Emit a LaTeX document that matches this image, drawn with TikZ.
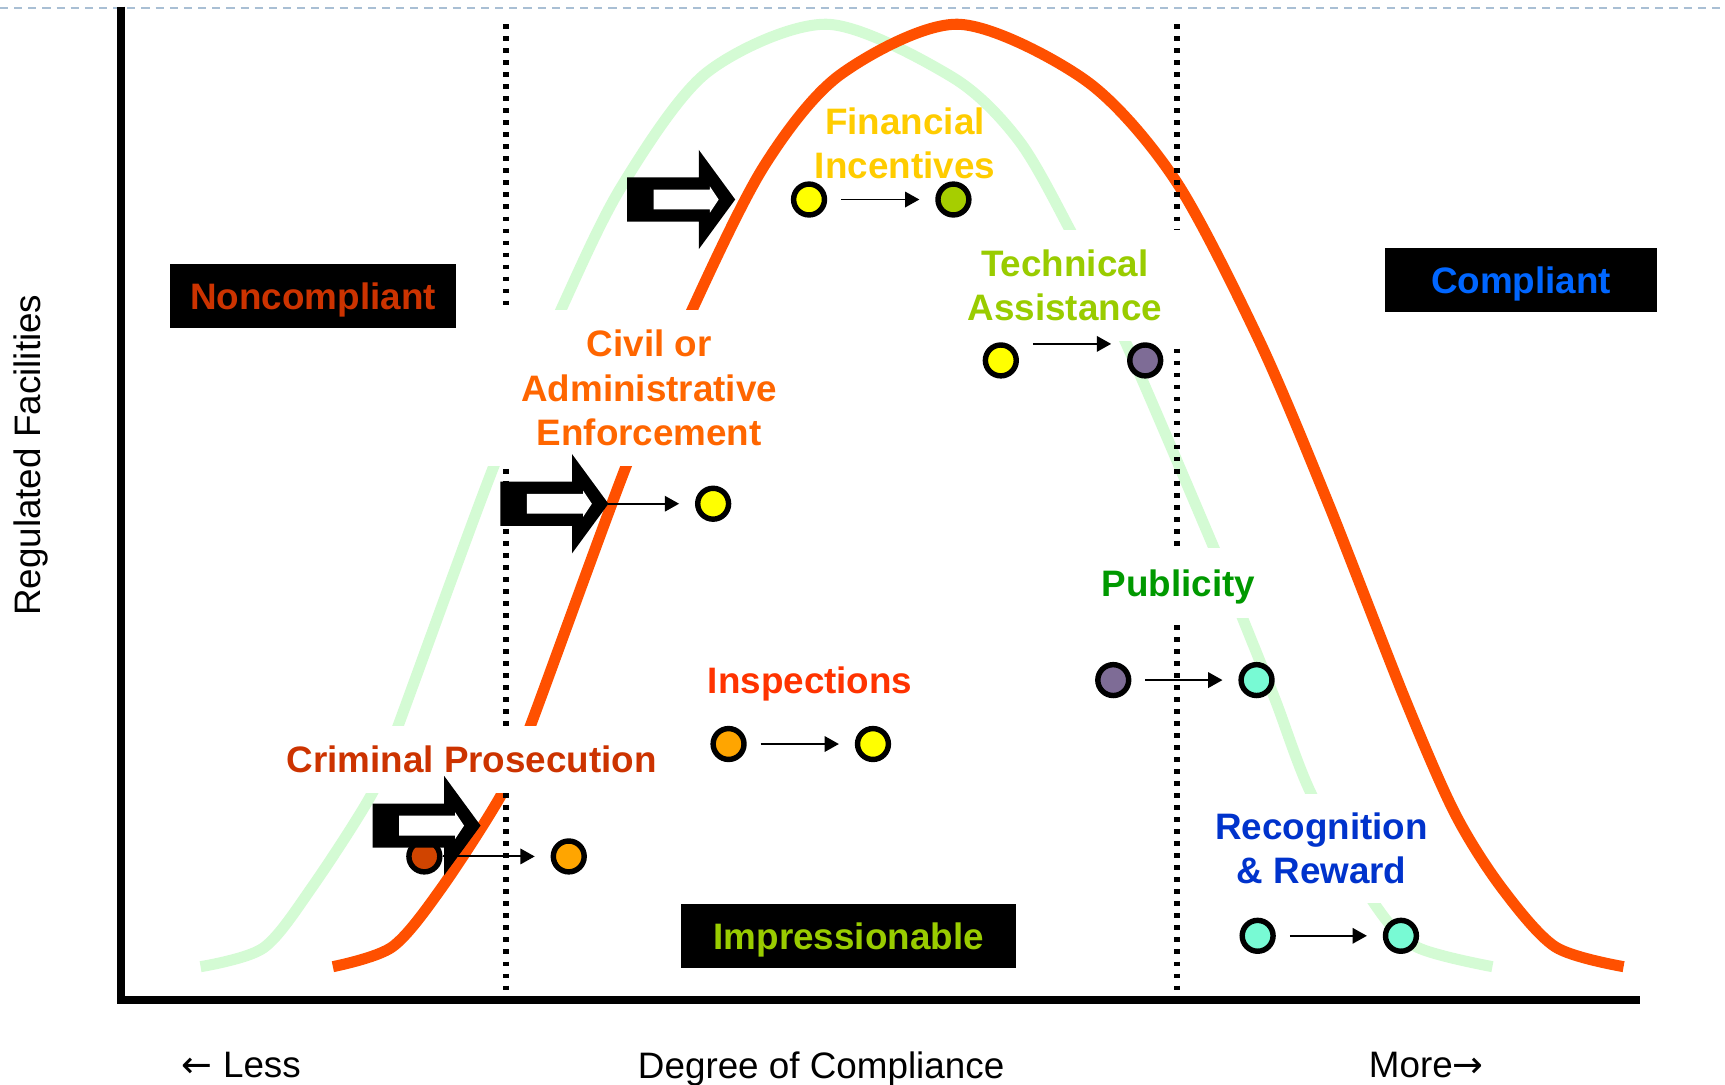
\documentclass[tikz,border=0pt]{standalone}
\usepackage{fontspec}
\setmainfont{Liberation Sans}
\newfontfamily\arrowfont{DejaVu Sans}
\usetikzlibrary{arrows.meta,calc}

\definecolor{bellgreen}{HTML}{D4FBD4}
\definecolor{bellorange}{HTML}{FF5000}
\definecolor{pagedash}{HTML}{A9BFD4}
\definecolor{redtxt}{HTML}{CC3300}
\definecolor{bluetxt}{HTML}{0066FF}
\definecolor{limetxt}{HTML}{99CC00}
\definecolor{goldtxt}{HTML}{FFCC00}
\definecolor{civtxt}{HTML}{FF6600}
\definecolor{insptxt}{HTML}{FF3300}
\definecolor{pubtxt}{HTML}{009900}
\definecolor{rectxt}{HTML}{0033CC}
\definecolor{dotyellow}{HTML}{FFFF00}
\definecolor{dotlime}{HTML}{A6CE00}
\definecolor{dotpurple}{HTML}{7E6C96}
\definecolor{dotorange}{HTML}{FFA500}
\definecolor{dotred}{HTML}{D04400}
\definecolor{dotaqua}{HTML}{78FAD4}

\begin{document}
\begin{tikzpicture}[x=0.01cm, y=-0.01cm,
  bell/.style={line width=2.85pt},
  zone/.style={line width=1.6pt, dash pattern=on 1.2pt off 1.9pt},
  axis/.style={line width=2pt},
  lbl/.style={font=\bfseries\fontsize{9.5}{11.4}\selectfont, align=center, inner sep=0pt},
  one/.style={text depth=0pt},
  cut/.style={fill=white},
  tag/.style={lbl, one, fill=black, minimum width=#1, minimum height=0.58cm},
  axlbl/.style={font=\fontsize{9.5}{11.4}\selectfont, inner sep=0pt, text depth=0pt},
  dot/.style={circle, draw=black, line width=1.4pt, minimum size=0.28cm, inner sep=0pt, fill=#1},
  move/.style={-{Triangle[length=3.7pt,width=4pt]}, line width=0.5pt, shorten <=3.6pt, shorten >=4.1pt},
  fatarrow/.pic={
    \fill[black] (0,0) -- (-33,-45) -- (-33,-20) -- (-98,-20) -- (-98,20) -- (-33,20) -- (-33,45) -- cycle;
    \fill[white] (-15,0) -- (-23,-12) -- (-23,-9) -- (-74,-9) -- (-74,9) -- (-23,9) -- (-23,12) -- cycle;
    \coordinate (-tip) at (0,0);
  }
]
  \useasboundingbox (0,0) rectangle (1565,984);

  % page rule
  \draw[pagedash, line width=0.5pt, dash pattern=on 2.1pt off 1.55pt] (0,7) -- (1565,7);

  % the two distributions
  \draw[bell, bellgreen] plot[smooth, tension=0.5] coordinates {(182,877) (239,860) (283,805) (338,719) (361,659) (448,423) (509,281) (564,169) (641,66) (750,22) (864,70) (924,127) (971,209) (1021,310) (1103,501) (1127,560) (1157,635) (1190,721) (1247,820) (1285,859) (1354,877)};
  \draw[bell, bellorange] plot[smooth, tension=0.5] coordinates {(302,877) (356,859) (401,805) (456,719) (481,659) (568,423) (628,281) (693,151) (762,68) (869,22) (985,73) (1066,163) (1142,308) (1204,454) (1275,635) (1320,738) (1362,805) (1411,859) (1473,877)};

  % zone limits
  \coordinate (lowtop) at (459,22);
  \coordinate (lowbot) at (459,898);
  \coordinate (hightop) at (1068,22);
  \coordinate (highbot) at (1068,898);
  \draw[zone] (lowtop) -- (lowbot);
  \draw[zone] (hightop) -- (highbot);

  % axes
  \coordinate (ytop) at (110,6);
  \coordinate (origin) at (110,907);
  \coordinate (xend) at (1488,907);
  \draw[axis] (ytop) -- (origin) -- (xend);

  \node[axlbl, rotate=90] (ylab) at (25,413) {Regulated Facilities};
  \node[axlbl] (less) at (219,966) {{\arrowfont ←} Less};
  \node[axlbl] (xlab) at (745,966) {Degree of Compliance};
  \node[axlbl] (more) at (1294,966) {More{\arrowfont →}};

  % zone tags
  \node[tag=2.6cm, text=redtxt] (noncomp) at (284,268.5) {Noncompliant};
  \node[tag=2.46cm, text=bluetxt] (comp) at (1380,254) {Compliant};
  \node[tag=3.04cm, text=limetxt] (impress) at (770,849) {Impressionable};

  % tools
  \node[lbl, text=goldtxt] (fin) at (821,130) {Financial\\Incentives};
  \node[lbl, cut, text=limetxt, minimum width=2.16cm, minimum height=1.0cm] (tech) at (966,259) {Technical\\Assistance};
  \node[lbl, cut, text=civtxt, minimum width=3cm, minimum height=1.42cm] (civ) at (589,352) {Civil or\\Administrative\\Enforcement};
  \node[lbl, one, cut, text=pubtxt, minimum width=1.5cm, minimum height=0.64cm] (pub) at (1069,529) {Publicity};
  \node[lbl, one, text=insptxt] (insp) at (735,617.5) {Inspections};
  \node[lbl, one, cut, text=redtxt, minimum width=3.6cm, minimum height=0.6cm] (crim) at (428,689) {Criminal Prosecution};
  \node[lbl, cut, text=rectxt, minimum width=2.1cm, minimum height=0.99cm] (rec) at (1199,770) {Recognition\\\& Reward};

  % facilities moving
  \node[dot=dotyellow] (fi1) at (734,181) {};
  \node[dot=dotlime] (fi2) at (865,181) {};
  \node[dot=dotyellow] (ta1) at (908,327) {};
  \node[dot=dotpurple] (ta2) at (1039,327) {};
  \node[dot=dotyellow] (ce1) at (647,457) {};
  \node[dot=dotorange] (in1) at (661,675) {};
  \node[dot=dotyellow] (in2) at (792,675) {};
  \node[dot=dotred] (cp1) at (385,777) {};
  \node[dot=dotorange] (cp2) at (516,777) {};
  \node[dot=dotpurple] (pu1) at (1010,617) {};
  \node[dot=dotaqua] (pu2) at (1140,617) {};
  \node[dot=dotaqua] (rr1) at (1141,849) {};
  \node[dot=dotaqua] (rr2) at (1271,849) {};

  \draw[move] (fi1) -- (fi2);
  \draw[move] ($(ta1.east)+(0,-15)$) -- ($(ta2.west)+(0,-15)$);
  \draw[move] (in1) -- (in2);
  \draw[move, shorten <=0pt] (cp1) -- (cp2);
  \draw[move] (pu1) -- (pu2);
  \draw[move] (rr1) -- (rr2);

  % pushes
  \pic (pfin) at (667,181) {fatarrow};
  \pic (pciv) at (552,457) {fatarrow};
  \pic (pcrim) at (436,749) {fatarrow};
  \draw[move, shorten <=0pt] (pciv-tip) -- (ce1);
\end{tikzpicture}
\end{document}
